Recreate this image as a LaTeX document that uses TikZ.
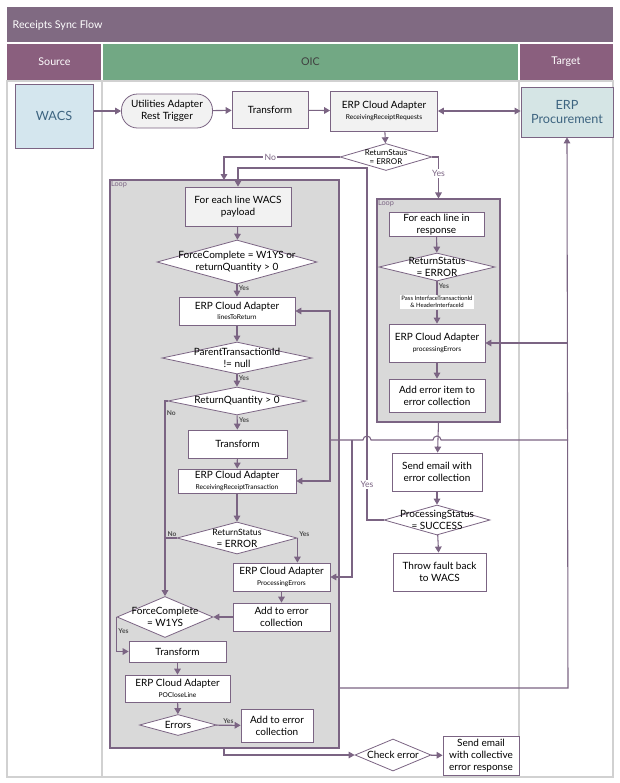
\documentclass[tikz,border=0pt]{standalone}
\usepackage{fontspec}
\setmainfont{Lato}
\usepackage{xcolor}
\usetikzlibrary{shapes.geometric, positioning, arrows.meta}
\definecolor{lnc}{HTML}{7B6483}
\definecolor{ttlc}{HTML}{806A82}
\definecolor{lanec}{HTML}{8A5F7E}
\definecolor{oicc}{HTML}{72A884}
\definecolor{loopc}{HTML}{D9D9D9}
\definecolor{wacsc}{HTML}{D4E6EE}
\definecolor{procc}{HTML}{D5E5E5}
\definecolor{boxc}{HTML}{F2F2F2}
\definecolor{bluetxt}{HTML}{3D6480}
\tikzset{
  line/.style={draw=lnc, line width=0.8pt},
  arr/.style={line, -{Triangle[width=5pt,length=4.5pt]}},
  box/.style={draw=lnc, line width=0.6pt, fill=white, align=center, inner sep=1pt,
    font=\fontsize{7.5}{9}\selectfont},
  dia/.style={diamond, draw=lnc, line width=0.6pt, fill=white, inner sep=0pt},
  dtxt/.style={align=center, inner sep=0pt, font=\fontsize{7.5}{9}\selectfont},
  loop/.style={draw=lnc, line width=0.8pt, fill=loopc},
  lbl/.style={font=\fontsize{5}{6}\selectfont\bfseries, text=black!70, inner sep=1pt},
  yn/.style={font=\fontsize{6.5}{7}\selectfont, text=lnc, fill=white, inner sep=1pt},
}
\newcommand{\sub}[1]{\\[-1pt]{\fontsize{5}{6}\selectfont #1}}
\begin{document}
\begin{tikzpicture}[x=0.75pt,y=-0.75pt]
\useasboundingbox (0,0) rectangle (620,783);
% lanes
\fill[ttlc] (7,7) rectangle (613,43);
\node[anchor=west, text=white, font=\fontsize{8}{9}\selectfont] (title) at (8,25) {Receipts Sync Flow};
\fill[lanec] (7,43) rectangle (102,81);
\fill[oicc] (102,43) rectangle (519,81);
\fill[lanec] (519,43) rectangle (613,81);
\draw[white, line width=1pt] (102,43) -- (102,81) (519,43) -- (519,81) (7,43) -- (613,43);
\node[text=white, font=\fontsize{8}{9}\selectfont] (hsrc) at (54.5,62) {Source};
\node[text=black!75, font=\fontsize{8}{9}\selectfont] (hoic) at (310.5,62) {OIC};
\node[text=white, font=\fontsize{8}{9}\selectfont] (htgt) at (566,62) {Target};
\draw[black!18, line width=0.8pt] (7,81) rectangle (613,777) (102,81) -- (102,777) (519,81) -- (519,777);
% loop frames
\node[loop, minimum width=229*0.75pt, minimum height=568*0.75pt] (loopL) at (224.5,464) {};
\node[loop, minimum width=123*0.75pt, minimum height=223*0.75pt] (loopR) at (438.5,310.5) {};
\node[lbl, text=lnc, anchor=north west, font=\fontsize{5.5}{6}\selectfont] (tL) at (loopL.north west) {Loop};
\node[lbl, text=lnc, anchor=north west, font=\fontsize{5.5}{6}\selectfont] (tR) at (loopR.north west) {Loop};
% top row
\node[box, fill=wacsc, text=bluetxt, font=\fontsize{9.5}{11}\selectfont, minimum width=78*0.75pt, minimum height=64*0.75pt] (wacs) at (54,116) {WACS};
\node[box, fill=boxc, rounded corners=12pt, minimum width=91*0.75pt, minimum height=34*0.75pt] (trig) at (167,111) {Utilities Adapter\\Rest Trigger};
\node[box, fill=boxc, minimum width=76*0.75pt, minimum height=37*0.75pt] (tr1) at (270,110) {Transform};
\node[box, fill=boxc, minimum width=107*0.75pt, minimum height=40*0.75pt] (rrr) at (384,111) {ERP Cloud Adapter\sub{ReceivingReceiptRequests}};
\node[box, fill=procc, text=bluetxt, font=\fontsize{9.5}{11}\selectfont, minimum width=92*0.75pt, minimum height=50*0.75pt] (proc) at (567,112) {ERP\\Procurement};
\node[dia, minimum width=92*0.75pt, minimum height=27*0.75pt, label={[dtxt, font=\fontsize{6}{7}\selectfont]center:ReturnStaus\\= ERROR}] (d1) at (386,157) {};
% left loop
\node[box, fill=boxc, minimum width=106*0.75pt, minimum height=39*0.75pt] (each1) at (238,206.5) {For each line WACS\\payload};
\node[dia, minimum width=160*0.75pt, minimum height=44*0.75pt, label={[dtxt]center:ForceComplete = W1YS or\\returnQuantity > 0}] (d2) at (237,262) {};
\node[box, minimum width=116*0.75pt, minimum height=28*0.75pt] (ltr) at (237,311) {ERP Cloud Adapter\sub{linesToReturn}};
\node[dia, minimum width=150*0.75pt, minimum height=32*0.75pt, label={[dtxt]center:ParentTransactionId\\!= null}] (d3) at (237,358) {};
\node[dia, minimum width=138*0.75pt, minimum height=28*0.75pt, label={[dtxt]center:ReturnQuantity > 0}] (d4) at (237,401) {};
\node[box, minimum width=99*0.75pt, minimum height=28*0.75pt] (tr2) at (237.5,444) {Transform};
\node[box, minimum width=118*0.75pt, minimum height=24*0.75pt] (rrt) at (237,481) {ERP Cloud Adapter\sub{ReceivingReceiptTransaction}};
\node[dia, minimum width=120*0.75pt, minimum height=32*0.75pt, label={[dtxt]center:{\fontsize{6.5}{7}\selectfont ReturnStatus}\\= ERROR}] (d5) at (237,538) {};
\node[box, minimum width=97*0.75pt, minimum height=28*0.75pt] (pe) at (281.5,577) {ERP Cloud Adapter\sub{ProcessingErrors}};
\node[box, minimum width=97*0.75pt, minimum height=28*0.75pt] (ae1) at (281.5,617) {Add to error\\collection};
\node[dia, minimum width=96*0.75pt, minimum height=41*0.75pt, label={[dtxt]center:ForceComplete\\= W1YS}] (d6) at (165,617) {};
\node[box, minimum width=97*0.75pt, minimum height=21*0.75pt] (tr3) at (177.5,651.5) {Transform};
\node[box, minimum width=105*0.75pt, minimum height=27*0.75pt] (pcl) at (177.5,688.5) {ERP Cloud Adapter\sub{POCloseLine}};
\node[dia, minimum width=77*0.75pt, minimum height=21*0.75pt, label={[dtxt]center:Errors}] (d7) at (178,725) {};
\node[box, minimum width=72*0.75pt, minimum height=33*0.75pt] (ae2) at (277,725.5) {Add to error\\collection};
\node[dia, minimum width=76*0.75pt, minimum height=32*0.75pt, label={[dtxt]center:Check error}] (chk) at (393,755) {};
\node[box, minimum width=76*0.75pt, minimum height=39*0.75pt] (mail2) at (481,755.5) {Send email\\with collective\\error response};
% right loop
\node[box, minimum width=95*0.75pt, minimum height=23*0.75pt] (each2) at (436.5,224.5) {For each line in\\response};
\node[dia, minimum width=116*0.75pt, minimum height=28*0.75pt, label={[dtxt]center:ReturnStatus\\= ERROR}] (d8) at (437,267) {};
\node[fill=white, inner sep=1pt, align=center, font=\fontsize{4.5}{5.5}\selectfont] (pass) at (437,302) {Pass InterfaceTransactionId\\\& HeaderInterfaceId};
\node[box, minimum width=96*0.75pt, minimum height=38*0.75pt] (pe2) at (437,343) {ERP Cloud Adapter\sub{processingErrors}};
\node[box, minimum width=96*0.75pt, minimum height=33*0.75pt] (ae3) at (437,395.5) {Add error item to\\error collection};
\node[box, minimum width=90*0.75pt, minimum height=38*0.75pt] (mail1) at (437,472) {Send email with\\error collection};
\node[dia, minimum width=106*0.75pt, minimum height=30*0.75pt, label={[dtxt]center:ProcessingStatus\\= SUCCESS}] (d9) at (437,520) {};
\node[box, minimum width=93*0.75pt, minimum height=38*0.75pt] (fault) at (439.5,572) {Throw fault back\\to WACS};
% helper points
\coordinate (noT) at (224,180);
\coordinate (back) at (367,168);
\coordinate (bus) at (568,688);
\coordinate (out) at (339,688);
\coordinate (lb) at (224,748);
\coordinate (j1) at (330,440);
\coordinate (j2) at (352,440);
% top connectors
\draw[arr] (wacs.east |- trig.west) -- (trig.west);
\draw[arr] (trig) -- (tr1);
\draw[arr] (tr1) -- (rrr);
\draw[arr, {Triangle[width=5pt,length=4.5pt]}-{Triangle[width=5pt,length=4.5pt]}] (rrr.east) -- (proc.west |- rrr.east);
\draw[arr] (rrr) -- (d1);
\draw[arr] (d1.west) -| node[yn, pos=0.3] {No} (noT);
\draw[arr] (d1.east) -| node[yn, pos=0.7] {Yes} (loopR.north);
\draw[arr] (d9.west) -- (d9.west -| back) -- node[yn, pos=0.1] {Yes} (back) -| (each1.north);
% left loop connectors
\draw[arr] (each1) -- (d2);
\draw[arr] (d2) -- node[lbl, right, pos=0.3] {Yes} (ltr);
\draw[arr] (ltr) -- (d3);
\draw[arr] (d3) -- node[lbl, right, pos=0.3] {Yes} (d4);
\draw[arr] (d4) -- node[lbl, right, pos=0.3] {Yes} (tr2);
\draw[arr] (d4.west) -| node[lbl, pos=0.53, right] {No} (d6.north);
\draw[arr] (tr2) -- (rrt);
\draw[arr] (rrt) -- (d5);
\draw[line] (d5.west) -- node[lbl, above, pos=0.4] {No} (d5.west -| d6.north);
\draw[arr] (d5.east) -- node[lbl, above right, pos=0] {Yes} (d5.east |- pe.north);
\draw[arr] (pe) -- (ae1);
\draw[arr] (ae1) -- (d6);
\draw[arr] (d6.west) |- node[lbl, pos=0.2, right] {Yes} (tr3.west);
\draw[arr] (tr3) -- (pcl);
\draw[arr] (pcl) -- (d7);
\draw[arr] (d7) -- node[lbl, above] {Yes} (ae2);
\draw[arr] (lb) |- (chk.west);
\draw[arr] (chk) -- (mail2);
% right loop connectors
\draw[arr] (each2) -- (d8);
\draw[line] (d8.south) -- node[lbl, right, pos=0.35] {Yes} (pass);
\draw[arr] (pass) -- (pe2);
\draw[arr] (pe2) -- (ae3);
\draw[arr] (loopR.south) -- (mail1);
\draw[arr] (mail1) -- (d9);
\draw[arr] (d9) -- (fault);
% bus to ERP Procurement
\draw[arr] (out) -- (bus) -- (proc.south);
\draw[arr] (bus |- pe2.east) -- (pe2.east);
\draw[line] (bus |- j1) -- (441,440) arc (0:-180:4) -- (371,440) arc (0:-180:4) -- (j1);
\draw[arr] (j1) |- (ltr.east);
\draw[arr] (j1) |- (rrt.east);
\draw[arr] (j2) |- (pe.east);
\end{tikzpicture}
\end{document}
